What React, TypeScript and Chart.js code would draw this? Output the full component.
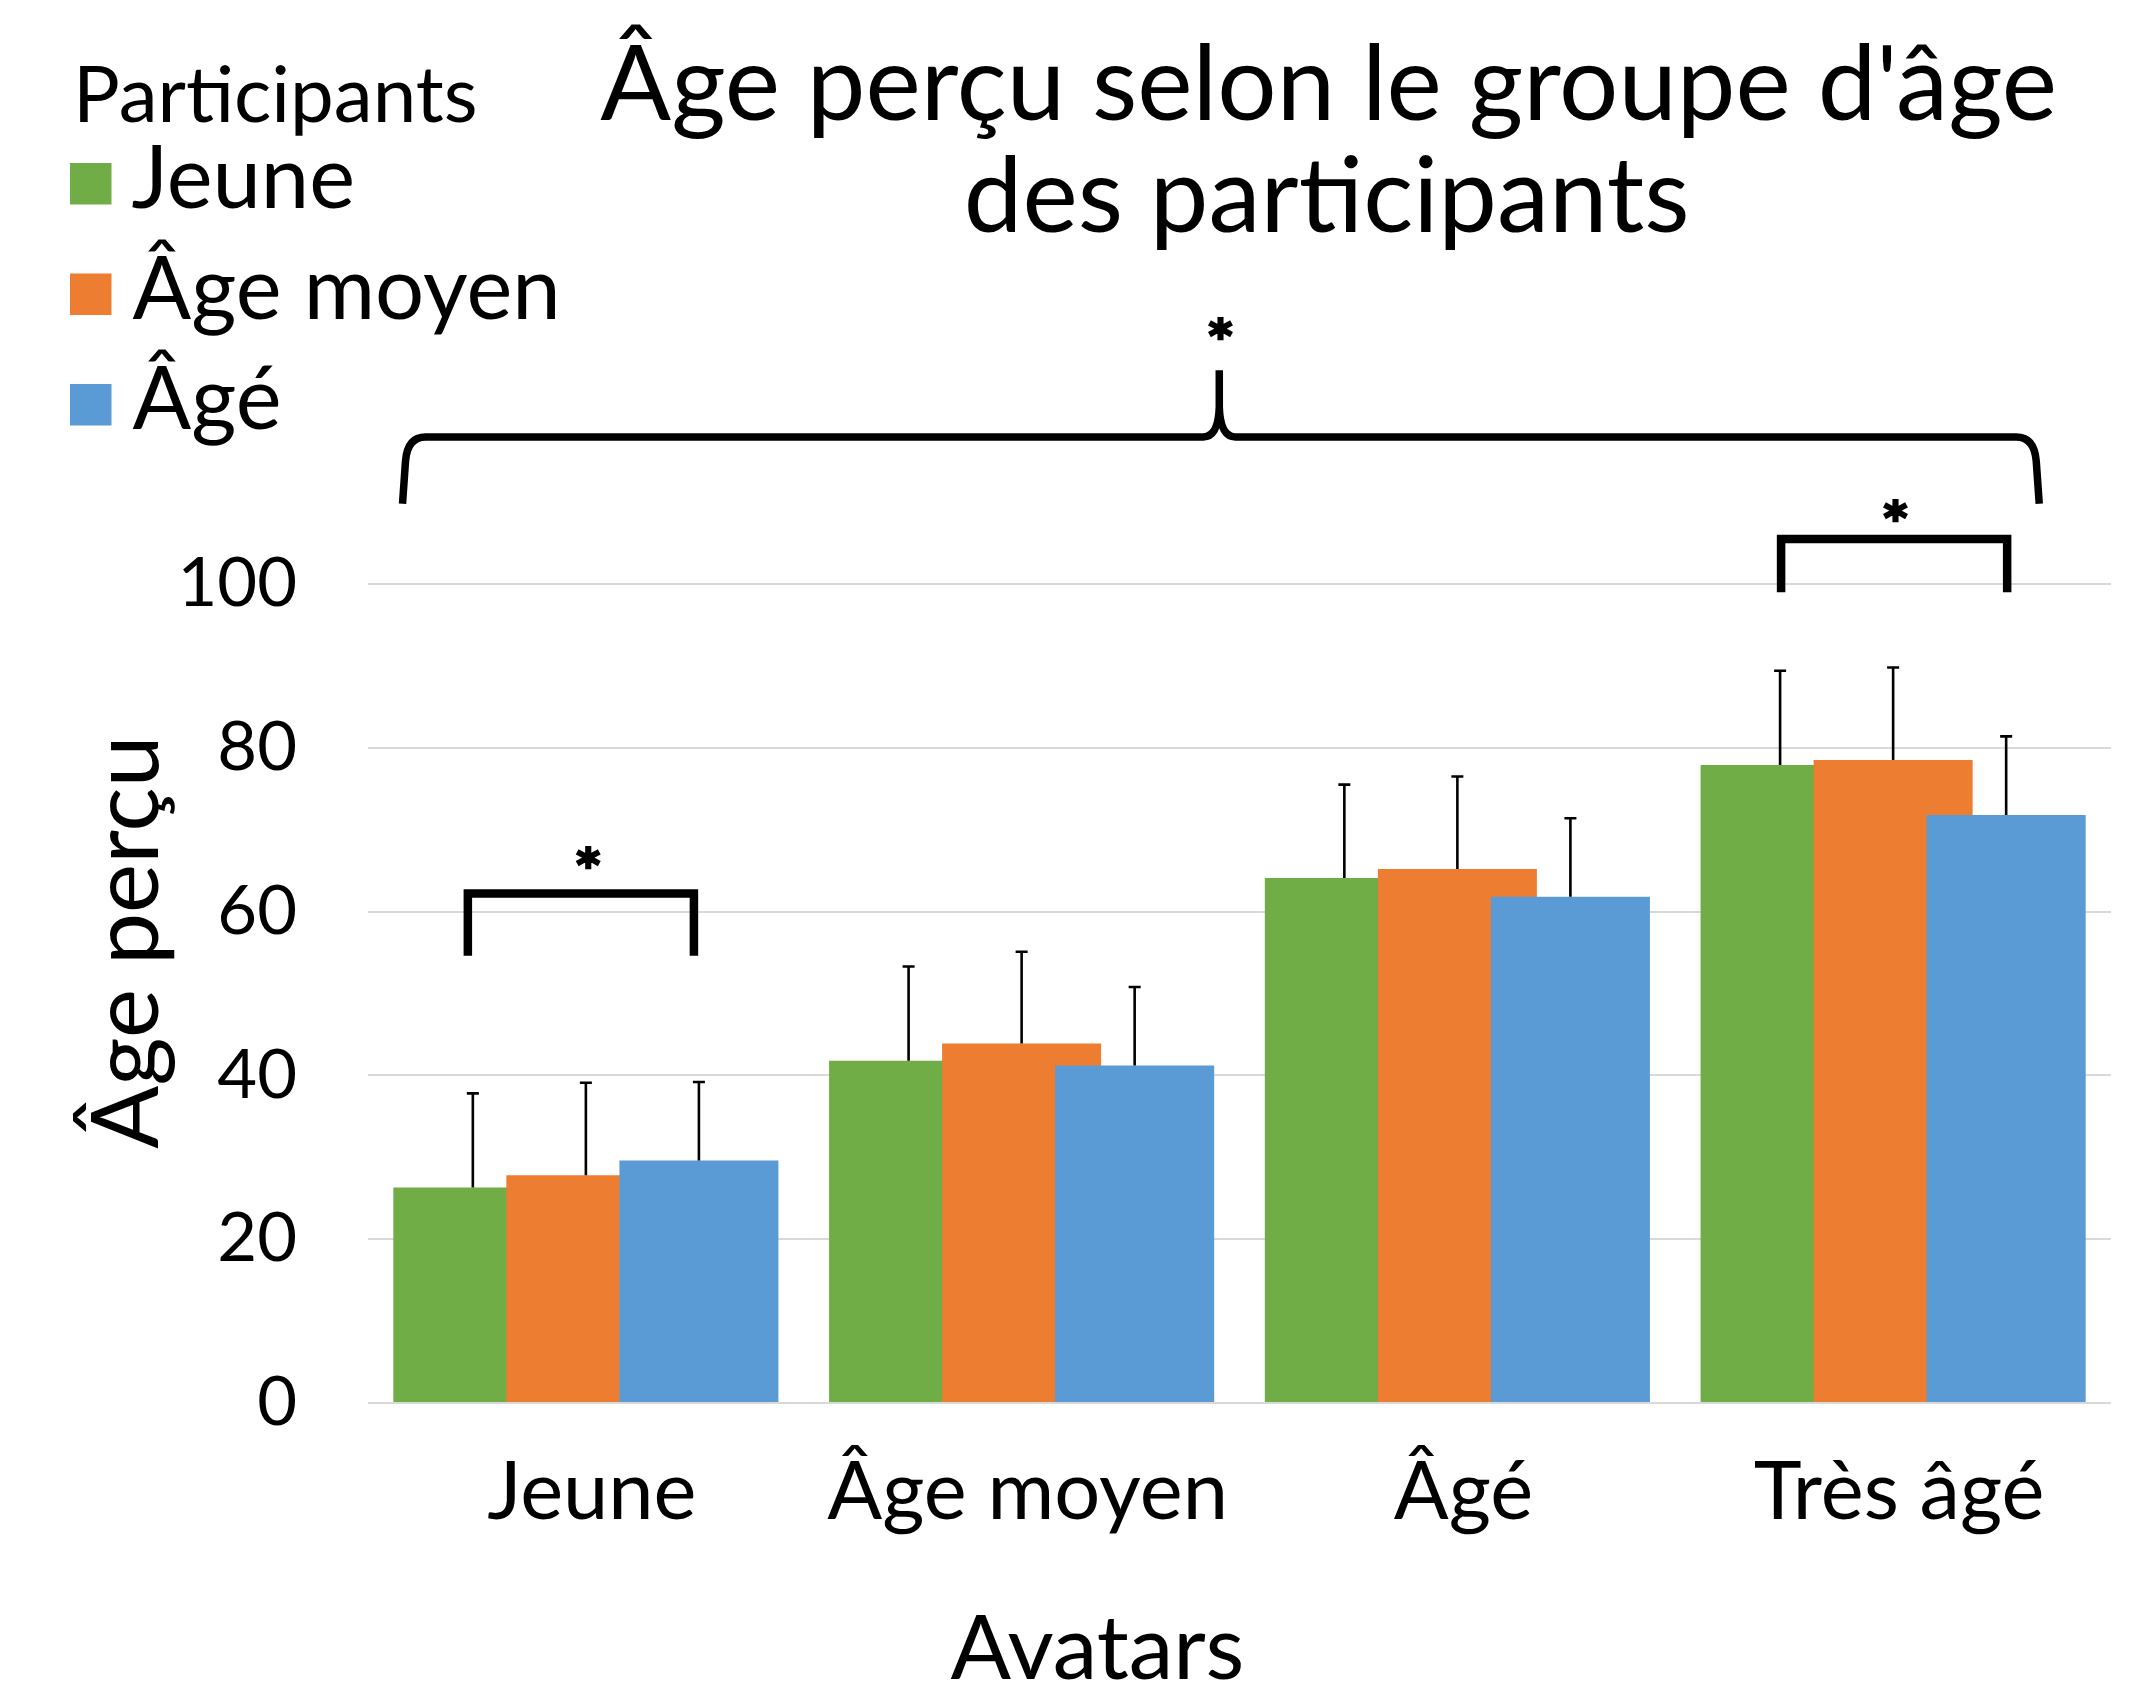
import { useEffect, useRef } from 'react';
import { Chart, registerables } from 'chart.js';

Chart.register(...registerables);

const FONT = 'Lato';
const STAR_FONT = '"DejaVu Sans"';

// ---- data ----
const CATEGORIES = ['Jeune', 'Âge moyen', 'Âgé', 'Très âgé'];
const SERIES_NAMES = ['Jeune', 'Âge moyen', 'Âgé'];
const SERIES_COLORS = ['#70AD47', '#ED7D31', '#5B9BD5'];
const JEUNE_VALUES = [26.3, 41.8, 64.1, 77.9];
const MOYEN_VALUES = [27.8, 43.9, 65.2, 78.5];
const AGE_VALUES = [29.6, 41.2, 61.8, 71.8];
const JEUNE_ERRORS = [11.5, 11.5, 11.4, 11.5];
const MOYEN_ERRORS = [11.3, 11.2, 11.3, 11.3];
const AGE_ERRORS = [9.6, 9.6, 9.6, 9.6];
const Y_MIN = 0;
const Y_MAX = 100;
const Y_STEP = 20;

const TITLE_LINES = ["Âge perçu selon le groupe d'âge", 'des participants'];
const LEGEND_TITLE = 'Participants';
const Y_TITLE = 'Âge perçu';
const X_TITLE = 'Avatars';
const STAR = '*';

// significance annotations (in data units / category units)
const PAIR_BRACKETS = [
  { category: 0, from: 0, to: 2, top: 62.2, bottom: 54.6, star: 66.6, shift: -5 },
  { category: 3, from: 0, to: 2, top: 105.5, bottom: 99.0, star: 109.0, shift: 1 },
];
const BRACE = { from: -0.4185, to: 3.333, mid: 1.4536, line: 117.95, ends: 109.8, peak: 126.1, star: 131.2 };

const SERIES_VALUES = [JEUNE_VALUES, MOYEN_VALUES, AGE_VALUES];
const SERIES_ERRORS = [JEUNE_ERRORS, MOYEN_ERRORS, AGE_ERRORS];

function inkWidth(ctx: CanvasRenderingContext2D, text: string) {
  const m = ctx.measureText(text);
  return m.actualBoundingBoxRight + m.actualBoundingBoxLeft;
}

function fitSize(ctx: CanvasRenderingContext2D, text: string, width: number, weight = 'normal', family = FONT) {
  ctx.font = `${weight} 100px ${family}`;
  return (100 * width) / inkWidth(ctx, text);
}

function drawCentered(ctx: CanvasRenderingContext2D, text: string, cx: number, baseline: number) {
  ctx.textAlign = 'left';
  ctx.textBaseline = 'alphabetic';
  const m = ctx.measureText(text);
  const x = cx - (m.actualBoundingBoxRight - m.actualBoundingBoxLeft) / 2;
  ctx.fillText(text, x, baseline);
}
function drawLeft(ctx: CanvasRenderingContext2D, text: string, left: number, baseline: number) {
  ctx.textAlign = 'left';
  ctx.textBaseline = 'alphabetic';
  const m = ctx.measureText(text);
  ctx.fillText(text, left + m.actualBoundingBoxLeft, baseline);
}

export default function App() {
  const ref = useRef<HTMLCanvasElement>(null);

  useEffect(() => {
    document.body.style.margin = '0';
    const canvas = ref.current!;
    const mctx = document.createElement('canvas').getContext('2d')!;

    const sTitle = fitSize(mctx, TITLE_LINES[0], 1453);
    const sLegendTitle = fitSize(mctx, LEGEND_TITLE, 395);
    const sLegend = fitSize(mctx, 'Âge moyen', 423);
    const sYTitle = fitSize(mctx, Y_TITLE, 407);
    const sXTitle = fitSize(mctx, X_TITLE, 291);
    const sXTick = fitSize(mctx, 'Âge moyen', 396);
    const sYTick = fitSize(mctx, '100', 112);
    const sStar = fitSize(mctx, STAR, 22, 'bold', STAR_FONT);

    const CHART_LEFT = 368;
    const CHART_TOP = 584;
    const CHART_BOTTOM = 1403;
    const CHART_RIGHT_PAD = 29;
    const H = 1686;

    mctx.font = `${sXTick}px ${FONT}`;
    mctx.textBaseline = 'middle';
    const dMid = mctx.measureText('Jeune').actualBoundingBoxDescent;
    const xTickPadding = 1512 - dMid - CHART_BOTTOM - 0.6 * sXTick;

    const reorderPlugin = {
      id: 'reorder',
      beforeDatasetsDraw(chart: any) {
        const metas = chart.getSortedVisibleDatasetMetas();
        for (const meta of metas) meta.controller.draw();
        return false;
      },
    };

    const annotPlugin = {
      id: 'annot',
      afterDraw(chart: any) {
        const ctx: CanvasRenderingContext2D = chart.ctx;
        const xs = chart.scales.x;
        const ys = chart.scales.y;
        const X = (v: number) => xs.getPixelForValue(v);
        const Y = (v: number) => ys.getPixelForValue(v);
        ctx.save();
        ctx.fillStyle = '#000';
        ctx.strokeStyle = '#000';

        // error bars
        SERIES_ERRORS.forEach((errs, di) => {
          const meta = chart.getDatasetMeta(di);
          meta.data.forEach((bar: any, i: number) => {
            const v = SERIES_VALUES[di][i];
            const yb = Y(v);
            const yt = Y(v + errs[i]);
            ctx.lineWidth = 2.6;
            ctx.lineCap = 'butt';
            ctx.beginPath();
            ctx.moveTo(bar.x, yb);
            ctx.lineTo(bar.x, yt);
            ctx.moveTo(bar.x - 6, yt);
            ctx.lineTo(bar.x + 6, yt);
            ctx.stroke();
          });
        });

        const drawStar = (cx: number, cy: number) => {
          ctx.font = `bold ${sStar}px ${STAR_FONT}`;
          ctx.textAlign = 'left';
          ctx.textBaseline = 'alphabetic';
          const m = ctx.measureText(STAR);
          const x = cx - (m.actualBoundingBoxRight - m.actualBoundingBoxLeft) / 2;
          const y = cy + (m.actualBoundingBoxAscent - m.actualBoundingBoxDescent) / 2;
          ctx.lineWidth = 2.4;
          ctx.lineJoin = 'miter';
          ctx.fillText(STAR, x, y);
          ctx.strokeText(STAR, x, y);
        };

        // pair brackets
        PAIR_BRACKETS.forEach((b) => {
          const xa = chart.getDatasetMeta(b.from).data[b.category].x + b.shift;
          const xb = chart.getDatasetMeta(b.to).data[b.category].x + b.shift;
          ctx.lineWidth = 8.5;
          ctx.lineJoin = 'miter';
          ctx.lineCap = 'butt';
          ctx.beginPath();
          ctx.moveTo(xa, Y(b.bottom));
          ctx.lineTo(xa, Y(b.top));
          ctx.lineTo(xb, Y(b.top));
          ctx.lineTo(xb, Y(b.bottom));
          ctx.stroke();
          drawStar(X(b.category) + 2, Y(b.star));
        });

        // curly brace
        {
          const xl = X(BRACE.from);
          const xr = X(BRACE.to);
          const xm = X(BRACE.mid);
          const yl = Y(BRACE.line);
          const ye = Y(BRACE.ends);
          const yp = Y(BRACE.peak);
          ctx.lineWidth = 7.5;
          ctx.lineJoin = 'round';
          ctx.lineCap = 'butt';
          ctx.beginPath();
          ctx.moveTo(xl - 1, ye);
          ctx.lineTo(xl + 2, yl + 24);
          ctx.quadraticCurveTo(xl + 4, yl, xl + 22, yl);
          ctx.lineTo(xm - 16, yl);
          ctx.quadraticCurveTo(xm - 1, yl, xm, yl - 30);
          ctx.lineTo(xm, yp);
          ctx.moveTo(xm, yl - 30);
          ctx.quadraticCurveTo(xm + 1, yl, xm + 16, yl);
          ctx.lineTo(xr - 22, yl);
          ctx.quadraticCurveTo(xr - 4, yl, xr - 2, yl + 24);
          ctx.lineTo(xr + 1, ye);
          ctx.stroke();
          drawStar(xm + 1, Y(BRACE.star));
        }

        // title
        ctx.font = `${sTitle}px ${FONT}`;
        drawCentered(ctx, TITLE_LINES[0], 1327, 120);
        drawCentered(ctx, TITLE_LINES[1], 1327, 232);

        // legend
        ctx.font = `${sLegendTitle}px ${FONT}`;
        drawLeft(ctx, LEGEND_TITLE, 80, 122);
        SERIES_NAMES.forEach((name, k) => {
          ctx.fillStyle = SERIES_COLORS[k];
          ctx.fillRect(70, 163 + k * 110.5, 41.5, 41.5);
          ctx.fillStyle = '#000';
          ctx.font = `${sLegend}px ${FONT}`;
          drawLeft(ctx, name, 132.6, 208 + k * 110.5);
        });

        // axis titles
        ctx.font = `${sXTitle}px ${FONT}`;
        drawCentered(ctx, X_TITLE, 1096, 1679);

        ctx.save();
        ctx.translate(158, 945);
        ctx.rotate(-Math.PI / 2);
        ctx.font = `${sYTitle}px ${FONT}`;
        drawCentered(ctx, Y_TITLE, 0, 0);
        ctx.restore();

        ctx.restore();
      },
    };

    const chart = new Chart(canvas, {
      type: 'bar',
      data: {
        labels: CATEGORIES,
        datasets: SERIES_NAMES.map((name, i) => ({
          label: name,
          data: SERIES_VALUES[i],
          backgroundColor: SERIES_COLORS[i],
          borderWidth: 0,
          categoryPercentage: 0.7782,
          barPercentage: 1.407,
        })),
      },
      options: {
        responsive: false,
        animation: false,
        devicePixelRatio: 1,
        layout: { padding: { top: CHART_TOP, right: CHART_RIGHT_PAD, bottom: 0, left: 0 } },
        plugins: {
          legend: { display: false },
          title: { display: false },
          tooltip: { enabled: false },
        },
        scales: {
          x: {
            grid: { display: false },
            border: { display: false },
            ticks: {
              color: '#000',
              font: { family: FONT, size: sXTick },
              padding: xTickPadding,
              labelOffset: 6,
              autoSkip: false,
              maxRotation: 0,
              minRotation: 0,
            },
            afterFit: (scale: any) => {
              scale.height = H - CHART_BOTTOM;
            },
          },
          y: {
            min: Y_MIN,
            max: Y_MAX,
            grid: { color: '#d9d9d9', lineWidth: 2, drawTicks: false },
            border: { display: false },
            ticks: {
              stepSize: Y_STEP,
              color: '#000',
              font: { family: FONT, size: sYTick },
              padding: 71,
            },
            afterFit: (scale: any) => {
              scale.width = CHART_LEFT;
            },
          },
        },
      },
      plugins: [reorderPlugin, annotPlugin],
    } as any);

    return () => chart.destroy();
  }, []);

  return <canvas ref={ref} width={2140} height={1686} style={{ display: 'block', width: 2140, height: 1686 }} />;
}
